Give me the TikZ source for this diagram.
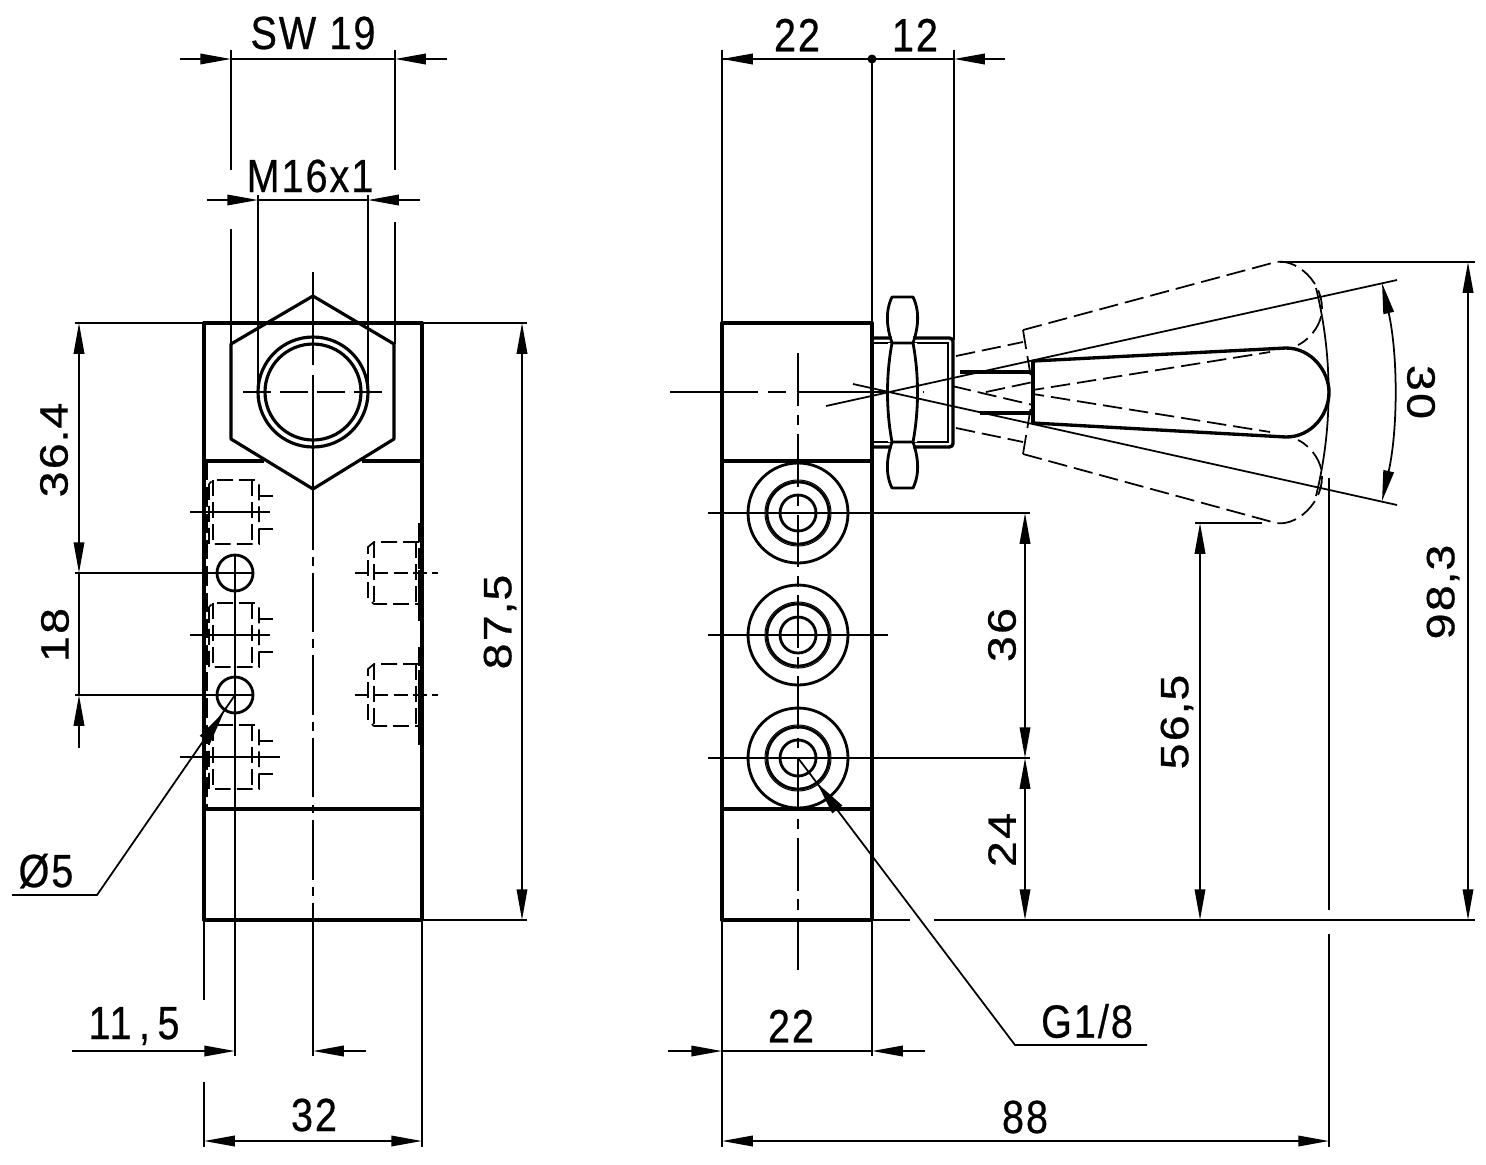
\documentclass[tikz,border=0pt]{standalone}
\usepackage{fontspec}
\setmainfont[LetterSpace=5,FakeBold=0.6]{Liberation Sans}
\usetikzlibrary{arrows.meta}
\tikzset{
  outline/.style={line width=1.9pt,line join=round},
  thinline/.style={line width=1pt},
  hidden/.style={line width=1pt,dash pattern=on 11pt off 4pt},
  hiddenfine/.style={line width=.95pt,dash pattern=on 9pt off 3.5pt},
  axisline/.style={line width=.8pt,dash pattern=on 34pt off 4pt on 5pt off 4pt},
  tip/.tip={Triangle[length=17.5pt,width=6pt]},
  dimline/.style={thinline,tip-tip},
  dimright/.style={thinline,-tip},
  dimtxt/.style={font=\fontsize{26.5}{26.5}\selectfont,xscale=.85,inner sep=0pt}
}
\newcommand{\screwleft}[1]{%
  \begin{scope}[yshift=#1*-.02cm]
    \draw[hiddenfine] (209,-28) -- (209,32) -- (259,32) -- (259,-28) -- (255,-32) -- (213,-32) -- cycle;
    \draw[hiddenfine] (252,-32) -- (252,32) (213,-32) -- (213,32);
    \draw[hiddenfine] (273,-16) -- (259,-16) (273,17) -- (259,17);
  \end{scope}}
\newcommand{\screwright}[1]{%
  \begin{scope}[yshift=#1*-.02cm]
    \draw[hiddenfine] (419,-31) -- (374,-31) -- (368,-26) -- (368,26) -- (374,31) -- (419,31) -- cycle;
    \draw[hiddenfine] (374,-31) -- (374,31) (416,-31) -- (416,31);
    \draw[axisline,dash pattern=on 8pt off 3pt] (355,0) -- (438,0);
  \end{scope}}
\newcommand{\port}[1]{%
  \draw[outline,line width=1.6pt] (798,#1) circle (50) (798,#1) circle (31) (798,#1) circle (18);
  \draw[line width=.6pt] (798,#1) circle (33);}
\begin{document}
\begin{tikzpicture}[x=.02cm,y=-.02cm]
  \useasboundingbox (0,0) rectangle (1486,1164);
  %left view
    \draw[outline] (204,323) rectangle (422,920);
    \draw[outline] (204,461) -- (264,461) (362,461) -- (422,461) (204,809) -- (422,809);
    \draw[outline,line width=1.8pt] (313,296) -- (394,344) -- (394,439) -- (313,489) -- (231,439) -- (231,344) -- cycle;
    \draw[outline,line width=1.8pt] (313,392) circle (55) (313,392) circle (48);
    \draw[thinline] (313,272) -- (313,365) (313,375) -- (313,490);
    \draw[axisline] (313,490) -- (313,920);
    \draw[axisline,dash pattern=on 16pt off 5pt] (243,392) -- (384,392);
  %hidden parts
    \draw[hidden] (207,461) -- (207,809);
    \draw[hidden] (419,523) -- (419,623) (419,647) -- (419,745);
    \screwleft{512} \screwleft{635} \screwleft{757}
    \screwright{573} \screwright{695}
    \draw[thinline] (190,512) -- (270,512) (190,635) -- (270,635) (180,757) -- (280,757);
  %ports
    \draw[outline,line width=1.6pt] (235,573) circle (18) (235,695) circle (18);
  %left extension lines
    \draw[thinline] (231,50) -- (231,170) (231,229) -- (231,344);
    \draw[thinline] (395,50) -- (395,170) (395,222) -- (395,344);
    \draw[thinline] (258,195) -- (258,392) (368,195) -- (368,392);
    \draw[thinline] (75,323) -- (204,323) (422,323) -- (527,323) (422,920) -- (527,920);
    \draw[thinline] (75,573) -- (253,573) (75,695) -- (253,695);
    \draw[thinline] (235,555) -- (235,1056);
    \draw[thinline] (204,920) -- (204,1000) (204,1082) -- (204,1147);
    \draw[thinline] (422,920) -- (422,1147) (313,920) -- (313,1056);
  %left dimensions
    \draw[dimright] (180,59) -- (231,59);
    \draw[dimright] (447,59) -- (395,59);
    \draw[thinline] (231,59) -- (395,59);
    \draw[dimright] (207,200) -- (258,200);
    \draw[dimright] (420,200) -- (368,200);
    \draw[thinline] (258,200) -- (368,200);
    \draw[dimline] (79,323) -- (79,573);
    \draw[thinline] (79,573) -- (79,695);
    \draw[dimright] (79,748) -- (79,695);
    \draw[dimline] (522,323) -- (522,920);
    \draw[dimright] (72,1051) -- (235,1051);
    \draw[dimright] (366,1051) -- (313,1051);
    \draw[dimline] (204,1141) -- (422,1141);
    \draw[thinline] (235,695) -- (97,895) -- (12,895);
    \draw[-{Triangle[length=19pt,width=7pt]},thinline] (206,738) -- (224,712);
  %right view
    \draw[outline] (722,323) rectangle (872,920);
    \draw[outline] (722,461) -- (872,461) (722,809) -- (872,809);
    \port{513} \port{635} \port{758}
    \draw[axisline,dash pattern=on 30pt off 5pt on 6pt off 5pt] (798,353) -- (798,970);
    \draw[axisline,dash pattern=on 50pt off 6pt on 10pt off 6pt] (670,392) -- (924,392);
  %nut
    \draw[outline,rounded corners=2pt] (873,338) -- (953,338) -- (953,447) -- (873,447);
    \draw[thinline] (873,343) -- (948,343) -- (948,442) -- (873,442);
    \fill[white] (892,297) rectangle (913,343) (888,343) rectangle (917,442) (892,442) rectangle (913,488);
    \draw[outline,line width=1.6pt] (892,343) .. controls (884,320) and (888,305) .. (892,297) -- (913,297) .. controls (917,305) and (921,320) .. (913,343) -- cycle;
    \draw[outline,line width=1.6pt] (892,442) .. controls (884,465) and (888,480) .. (892,488) -- (913,488) .. controls (917,480) and (921,465) .. (913,442) -- cycle;
    \draw[outline,line width=1.6pt] (892,343) .. controls (886,375) and (886,410) .. (892,442);
    \draw[outline,line width=1.6pt] (913,343) .. controls (919,375) and (919,410) .. (913,442);
  %lever
    \draw[outline] (960,372) -- (1033,372) (980,413) -- (1033,413);
    \draw[outline] (1033,361) -- (1033,423);
    \draw[outline] (1033,361) -- (1286,348) .. controls (1312,348) and (1329,372) .. (1329,392) .. controls (1329,414) and (1312,437) .. (1286,437) -- (1033,423);
  %lever, end positions
    \draw[hidden] (956,356) -- (1023,342) (1023,330) -- (1276,262) .. controls (1300,258) and (1330,290) .. (1320,320) .. controls (1316,332) and (1305,342) .. (1298,345);
    \draw[hidden] (1023,330) -- (1033,390) -- (1270,352);
    \draw[hidden] (986,392) -- (1033,382);
    \draw[hidden] (956,428) -- (1023,442) (1023,454) -- (1276,523) .. controls (1300,527) and (1330,495) .. (1320,465) .. controls (1316,453) and (1305,443) .. (1298,440);
    \draw[hidden] (1023,454) -- (1033,394) -- (1270,432);
    \draw[hidden] (952,386) -- (1033,405);
  %angle lines
    \draw[thinline] (826,406) -- (1397,280) (853,384) -- (1397,505);
    \draw[thinline] (1316,288) arc[start angle=-13.8,end angle=13.8,radius=436];
    \draw[dimline] (1382,283) arc[start angle=-12.6,end angle=12.6,radius=500];
  %right extension lines
    \draw[thinline] (722,50) -- (722,323) (954,50) -- (954,340);
    \draw[thinline] (872,59) -- (872,323) (872,461) -- (872,920);
    \draw[thinline] (708,513) -- (1030,513) (708,635) -- (888,635) (708,758) -- (1030,758);
    \draw[thinline] (872,920) -- (910,920) (934,920) -- (1475,920);
    \draw[thinline] (1280,262) -- (1475,262);
    \draw[thinline] (1195,523) -- (1262,523);
    \draw[thinline] (1329,478) -- (1329,910) (1329,934) -- (1329,1147);
    \draw[thinline] (722,920) -- (722,1147) (872,920) -- (872,1056);
  %right dimensions
    \draw[thinline] (722,59) -- (954,59);
    \draw[dimright] (760,59) -- (722,59);
    \draw[dimright] (1005,59) -- (954,59);
    \fill (872,59) circle (4.5);
    \draw[dimline] (1025,513) -- (1025,758);
    \draw[dimline] (1025,758) -- (1025,920);
    \draw[dimline] (1200,523) -- (1200,920);
    \draw[dimline] (1468,262) -- (1468,920);
    \draw[dimright] (668,1051) -- (722,1051);
    \draw[dimright] (925,1051) -- (872,1051);
    \draw[thinline] (722,1051) -- (872,1051);
    \draw[dimline] (722,1141) -- (1329,1141);
    \draw[thinline] (798,758) -- (1015,1045) -- (1147,1045);
    \draw[-{Triangle[length=19pt,width=7pt]},thinline] (837,809) -- (817,783);
  %labels
    \node[dimtxt] (sw) at (313,33) {SW\,\,19};
    \node[dimtxt] (m16) at (310,176) {M16x1};
    \node[dimtxt,rotate=90] (h364) at (54,450) {36\kern.5pt.\kern.5pt4};
    \node[dimtxt,rotate=90] (h18) at (55,635) {18};
    \node[dimtxt,rotate=90] (h875) at (500,622) {87\kern.5pt,\kern.5pt5};
    \node[dimtxt] (d5) at (46,871) {Ø5};
    \node[dimtxt] (w115) at (134,1026) {11\kern5pt,\kern5pt5};
    \node[dimtxt] (w32) at (314,1115) {32};
    \node[dimtxt] (w22a) at (797,35) {22};
    \node[dimtxt] (w12) at (915,35) {12};
    \node[dimtxt,rotate=-90] (a30) at (1421,392) {30};
    \node[dimtxt,rotate=90] (h983) at (1443,592) {98\kern.5pt,\kern.5pt3};
    \node[dimtxt,rotate=90] (h36) at (1002,635) {36};
    \node[dimtxt,rotate=90] (h565) at (1177,722) {56\kern.5pt,\kern.5pt5};
    \node[dimtxt,rotate=90] (h24) at (1002,840) {24};
    \node[dimtxt] (w22b) at (791,1026) {22};
    \node[dimtxt] (g18) at (1087,1021) {G1/8};
    \node[dimtxt] (w88) at (1025,1117) {88};
\end{tikzpicture}
\end{document}
